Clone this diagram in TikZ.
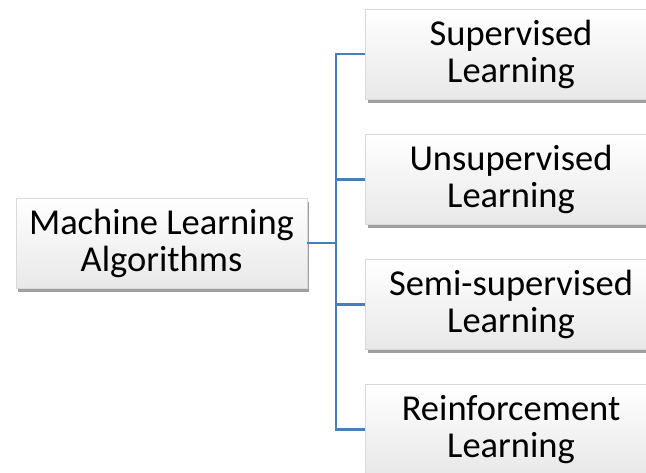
\documentclass[tikz,border=0pt]{standalone}
\usepackage{fontspec}
\setmainfont{Carlito}
\usetikzlibrary{shadows}
\definecolor{linkblue}{HTML}{4A7EBB}
\definecolor{boxedge}{HTML}{D9D9D9}
\tikzset{
  catbox/.style={
    draw=boxedge, line width=0.6pt,
    top color=white, middle color=white, bottom color=black!9,
    minimum width=291pt, minimum height=90pt, inner sep=0pt,
    align=center, font=\fontsize{36.5}{37}\selectfont,
    drop shadow={shadow xshift=2pt, shadow yshift=-4pt, opacity=0.5, fill=black!75}
  },
  link/.style={draw=linkblue, line width=2.4pt}
}
\begin{document}
\begin{tikzpicture}[x=1pt, y=-1pt]
  \useasboundingbox (0,0) rectangle (646,473);

  % root category
  \node[catbox] (ml) at (161.5,243) {Machine Learning\\Algorithms};

  % learning paradigms
  \node[catbox] (sup)  at (511,54)    {Supervised\\Learning};
  \node[catbox] (uns)  at (511,179.5) {Unsupervised\\Learning};
  \node[catbox] (semi) at (511,304.5) {Semi-supervised\\Learning};
  \node[catbox] (rein) at (511,429.5) {Reinforcement\\Learning};

  % bus bar and branches
  \coordinate (bus) at (336,243);
  \draw[link] (ml.east) -- (bus);
  \draw[link] (bus) |- (sup.west);
  \draw[link] (bus) |- (uns.west);
  \draw[link] (bus) |- (semi.west);
  \draw[link] (bus) |- (rein.west);
\end{tikzpicture}
\end{document}
